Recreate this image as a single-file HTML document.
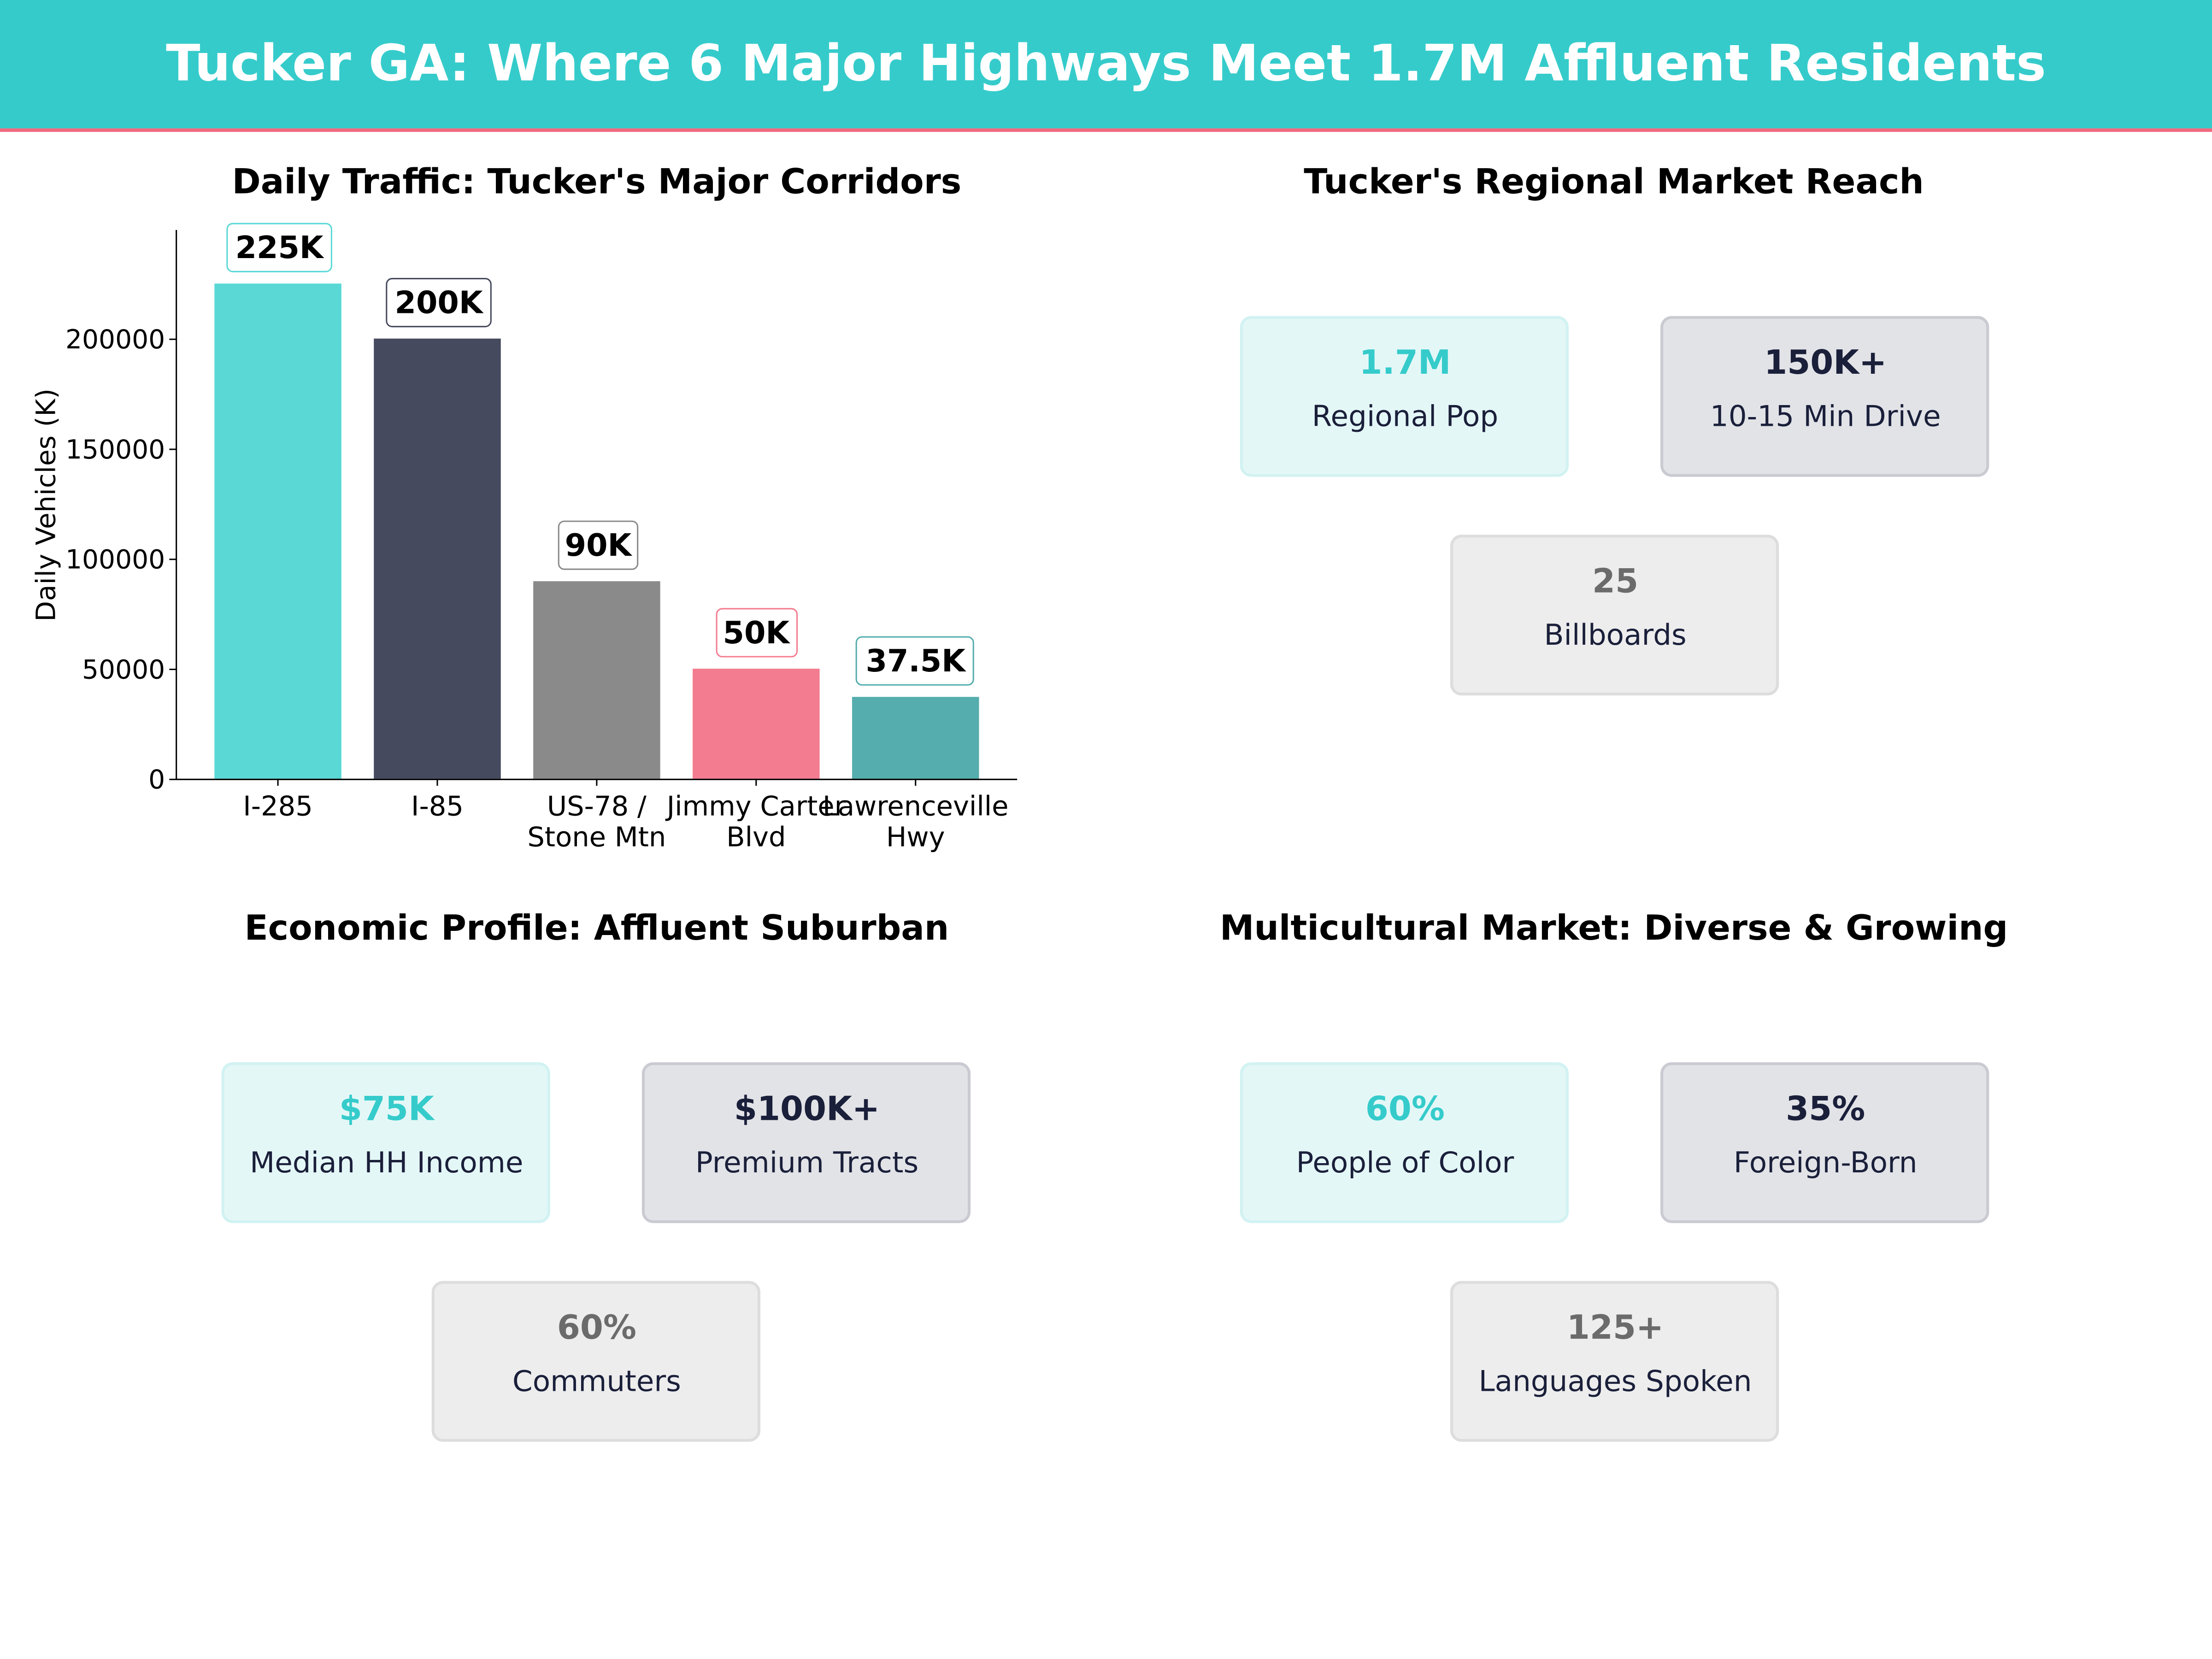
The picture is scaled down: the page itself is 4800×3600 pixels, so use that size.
<!DOCTYPE html>
<html><head><meta charset="utf-8"><style>html,body{margin:0;padding:0;background:#fff}svg{display:block}</style></head>
<body>
<svg xmlns="http://www.w3.org/2000/svg" width="4800" height="3600" viewBox="0 0 1568 1176" font-family="DejaVu Sans, Liberation Sans, sans-serif">
<rect x="0" y="0" width="1568" height="1176" fill="#fff"/>
<rect x="0" y="0" width="1568" height="91" fill="#36CBCB"/>
<rect x="0" y="91" width="1568" height="2.5" fill="#F0697E"/>
<text x="784" y="57" text-anchor="middle" font-size="35.6" font-weight="bold" fill="#fff">Tucker GA: Where 6 Major Highways Meet 1.7M Affluent Residents</text>

<g font-weight="bold" font-size="24.5" text-anchor="middle" fill="#000">
<text x="423" y="137">Daily Traffic: Tucker's Major Corridors</text>
<text x="1144" y="137">Tucker's Regional Market Reach</text>
<text x="423" y="666">Economic Profile: Affluent Suburban</text>
<text x="1144" y="666">Multicultural Market: Diverse &amp; Growing</text>
</g>

<!-- bars -->
<rect x="152" y="201" width="90" height="351" fill="#5AD8D6"/>
<rect x="265" y="240" width="90" height="312" fill="#454A5E"/>
<rect x="378" y="412" width="90" height="140" fill="#8A8A8A"/>
<rect x="491" y="474" width="90" height="78" fill="#F47C90"/>
<rect x="604" y="494" width="90" height="58" fill="#55ADAD"/>
<line x1="125" y1="163" x2="125" y2="552.5" stroke="#000" stroke-width="1"/>
<line x1="124.5" y1="552.5" x2="721" y2="552.5" stroke="#000" stroke-width="1"/>
<g stroke="#000" stroke-width="1">
<line x1="120" y1="552.5" x2="125" y2="552.5"/><line x1="120" y1="474.5" x2="125" y2="474.5"/><line x1="120" y1="396.5" x2="125" y2="396.5"/><line x1="120" y1="318.5" x2="125" y2="318.5"/><line x1="120" y1="240.5" x2="125" y2="240.5"/>
<line x1="197" y1="552" x2="197" y2="557"/><line x1="310" y1="552" x2="310" y2="557"/><line x1="423" y1="552" x2="423" y2="557"/><line x1="536" y1="552" x2="536" y2="557"/><line x1="649" y1="552" x2="649" y2="557"/>
</g>
<g font-size="18.5" text-anchor="end" fill="#000">
<text x="117" y="559">0</text><text x="117" y="481">50000</text><text x="117" y="403">100000</text><text x="117" y="325">150000</text><text x="117" y="247">200000</text>
</g>
<text transform="translate(39,358) rotate(-90)" text-anchor="middle" font-size="19">Daily Vehicles (K)</text>
<g font-size="19.3" text-anchor="middle" fill="#000">
<text x="197" y="578">I-285</text><text x="310" y="578">I-85</text>
<text x="423" y="578">US-78 /</text><text x="423" y="600">Stone Mtn</text>
<text x="536" y="578">Jimmy Carter</text><text x="536" y="600">Blvd</text>
<text x="649" y="578">Lawrenceville</text><text x="649" y="600">Hwy</text>
</g>
<g font-size="21.8" font-weight="bold" text-anchor="middle" fill="#000">
<rect x="161" y="158.5" width="74" height="34" rx="4" fill="#fff" stroke="#5AD8D6"/><text x="198" y="183">225K</text>
<rect x="274" y="197.5" width="74" height="34" rx="4" fill="#fff" stroke="#454A5E"/><text x="311" y="222">200K</text>
<rect x="396" y="369.5" width="56" height="34" rx="4" fill="#fff" stroke="#8A8A8A"/><text x="424" y="394">90K</text>
<rect x="508" y="431.5" width="57" height="34" rx="4" fill="#fff" stroke="#F47C90"/><text x="536" y="456">50K</text>
<rect x="607" y="451.5" width="83" height="34" rx="4" fill="#fff" stroke="#55ADAD"/><text x="649" y="476">37.5K</text>
</g>

<defs>
<g id="c1"><rect width="231" height="112" rx="7" fill="#E4F7F7" stroke="#D2F2F2" stroke-width="2"/></g>
<g id="c2"><rect width="231" height="112" rx="7" fill="#E2E3E7" stroke="#CACAD2" stroke-width="2"/></g>
<g id="c3"><rect width="231" height="112" rx="7" fill="#EDEDED" stroke="#DDDDDD" stroke-width="2"/></g>
</defs>
<use href="#c1" x="880" y="225"/><use href="#c2" x="1178" y="225"/><use href="#c3" x="1029" y="380"/>
<use href="#c1" x="158" y="754"/><use href="#c2" x="456" y="754"/><use href="#c3" x="307" y="909"/>
<use href="#c1" x="880" y="754"/><use href="#c2" x="1178" y="754"/><use href="#c3" x="1029" y="909"/>
<g text-anchor="middle">
<g font-size="23.5" font-weight="bold">
<text x="996" y="265" fill="#36CBCB">1.7M</text><text x="1294" y="265" fill="#1A1F3A">150K+</text><text x="1145" y="420" fill="#6B6B6B">25</text>
<text x="274" y="794" fill="#36CBCB">$75K</text><text x="572" y="794" fill="#1A1F3A">$100K+</text><text x="423" y="949" fill="#6B6B6B">60%</text>
<text x="996" y="794" fill="#36CBCB">60%</text><text x="1294" y="794" fill="#1A1F3A">35%</text><text x="1145" y="949" fill="#6B6B6B">125+</text>
</g>
<g font-size="20.5" fill="#1A1F3A">
<text x="996" y="302">Regional Pop</text><text x="1294" y="302">10-15 Min Drive</text><text x="1145" y="457">Billboards</text>
<text x="274" y="831">Median HH Income</text><text x="572" y="831">Premium Tracts</text><text x="423" y="986">Commuters</text>
<text x="996" y="831">People of Color</text><text x="1294" y="831">Foreign-Born</text><text x="1145" y="986">Languages Spoken</text>
</g>
</g>
</svg>
</body></html>
